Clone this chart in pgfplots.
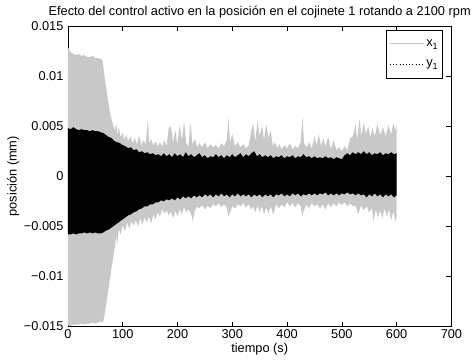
\documentclass[border=0pt]{standalone}
\usepackage{fontspec}
\setmainfont{Liberation Sans}
\usepackage{pgfplots}
\pgfplotsset{compat=1.18}
\definecolor{xgray}{RGB}{200,200,200}
\begin{document}
\fontsize{12.8bp}{15bp}\selectfont
\begin{tikzpicture}
\begin{axis}[
  scale only axis, width=384bp, height=301bp,
  xmin=0, xmax=700, ymin=-0.015, ymax=0.015,
  xtick={0,100,...,700},
  ytick={-0.015,-0.01,-0.005,0,0.005,0.01,0.015},
  yticklabels={−0.015,−0.01,−0.005,0,0.005,0.01,0.015},
  xticklabels={0,100,200,300,400,500,600,700},
  scaled y ticks=false,
  tick align=inside, major tick length=5bp,
  tick style={black, line width=0.5pt},
  axis line style={line width=0.6pt},
  tick label style={font=\fontsize{12.8bp}{15bp}\selectfont},
  label style={font=\fontsize{12.8bp}{15bp}\selectfont},
  title style={font=\fontsize{12.8bp}{15bp}\selectfont, yshift=-3bp},
  xticklabel style={yshift=1bp},
  title={Efecto del control activo en la posición en el cojinete 1 rotando a 2100 rpm},
  xlabel={tiempo (s)}, ylabel={posición (mm)},
  xlabel style={yshift=5bp},
  ylabel style={yshift=-4bp},
  legend cell align=left,
  legend style={at={(0.978,0.988)}, anchor=north east, draw=black, line width=0.6pt,
    font=\fontsize{12.8bp}{15bp}\selectfont, inner xsep=3bp, inner ysep=4bp,
    /tikz/every even column/.append style={column sep=2bp},
    nodes={inner sep=2bp, minimum height=20bp}},
  legend image code/.code={\draw[#1] (0bp,0bp) -- (34bp,0bp);},
]
\addlegendimage{xgray, solid, line width=0.8pt}
\addlegendentry{x\raisebox{-0.45ex}{\fontsize{9bp}{10bp}\selectfont 1}}
\addlegendimage{black, line width=0.6pt, dash pattern=on 0.6bp off 2.6bp}
\addlegendentry{y\raisebox{-0.45ex}{\fontsize{9bp}{10bp}\selectfont 1}}

% x_1 envelope (upper, then lower reversed)
\addplot[draw=none, fill=xgray, forget plot] coordinates {
(0,0.0127)(1,0.0128)(5,0.0124)(10,0.0122)(15,0.0121)(20,0.0122)(25,0.0120)(30,0.0121)(35,0.0119)(40,0.0119)(45,0.0120)(50,0.0118)(55,0.0118)(60,0.0117)(63,0.0116)(65,0.0108)(68,0.0095)(72,0.0080)(76,0.0066)(80,0.0056)(83,0.0050)(86,0.0046)(88,0.0054)(90,0.0041)(93,0.0049)(96,0.0039)(100,0.0044)(103,0.0036)(106,0.0042)(110,0.0035)(114,0.0040)(118,0.0033)(122,0.0038)(126,0.0032)(130,0.0041)(134,0.0031)(138,0.0036)(142,0.0032)(146,0.0057)(148,0.0033)(152,0.0037)(156,0.0031)(160,0.0035)(164,0.0030)(168,0.0034)(172,0.0030)(176,0.0036)(180,0.0030)(184,0.0048)(188,0.0050)(192,0.0034)(196,0.0046)(200,0.0031)(204,0.0052)(208,0.0036)(212,0.0055)(216,0.0033)(220,0.0030)(224,0.0054)(227,0.0032)(232,0.0037)(236,0.0029)(240,0.0033)(245,0.0029)(250,0.0034)(255,0.0028)(260,0.0032)(265,0.0029)(270,0.0031)(275,0.0028)(280,0.0033)(285,0.0030)(290,0.0036)(293,0.0059)(296,0.0034)(300,0.0042)(305,0.0030)(310,0.0034)(315,0.0029)(320,0.0032)(325,0.0028)(330,0.0031)(335,0.0046)(338,0.0053)(342,0.0035)(346,0.0055)(350,0.0040)(354,0.0051)(358,0.0036)(362,0.0052)(366,0.0038)(370,0.0046)(374,0.0030)(378,0.0034)(382,0.0028)(386,0.0032)(390,0.0027)(395,0.0031)(400,0.0028)(405,0.0033)(410,0.0027)(415,0.0030)(420,0.0028)(425,0.0034)(428,0.0060)(431,0.0033)(436,0.0029)(440,0.0034)(445,0.0028)(450,0.0040)(454,0.0031)(458,0.0042)(462,0.0030)(466,0.0038)(470,0.0029)(475,0.0040)(480,0.0027)(485,0.0036)(490,0.0026)(495,0.0029)(500,0.0025)(505,0.0030)(510,0.0026)(515,0.0038)(520,0.0040)(525,0.0052)(528,0.0036)(532,0.0057)(536,0.0040)(540,0.0054)(544,0.0042)(548,0.0050)(552,0.0039)(556,0.0048)(560,0.0040)(565,0.0052)(570,0.0041)(575,0.0049)(580,0.0040)(585,0.0051)(590,0.0042)(594,0.0053)(598,0.0045)(600,0.0053)
(600,-0.0040)(598,-0.0045)(594,-0.0035)(590,-0.0044)(586,-0.0033)(582,-0.0040)(578,-0.0032)(574,-0.0042)(570,-0.0034)(566,-0.0041)(562,-0.0033)(558,-0.0045)(555,-0.0032)(550,-0.0036)(545,-0.0030)(540,-0.0034)(535,-0.0029)(530,-0.0038)(525,-0.0029)(520,-0.0030)(515,-0.0027)(510,-0.0030)(505,-0.0026)(500,-0.0029)(495,-0.0026)(490,-0.0030)(485,-0.0027)(480,-0.0031)(475,-0.0027)(470,-0.0033)(465,-0.0028)(460,-0.0032)(455,-0.0028)(450,-0.0030)(445,-0.0027)(440,-0.0032)(435,-0.0028)(430,-0.0035)(428,-0.0041)(425,-0.0030)(420,-0.0027)(415,-0.0031)(410,-0.0027)(405,-0.0030)(400,-0.0026)(395,-0.0031)(390,-0.0028)(385,-0.0032)(380,-0.0028)(375,-0.0038)(370,-0.0030)(366,-0.0037)(362,-0.0031)(358,-0.0038)(354,-0.0030)(350,-0.0036)(346,-0.0029)(342,-0.0036)(338,-0.0030)(334,-0.0033)(330,-0.0028)(325,-0.0031)(320,-0.0027)(315,-0.0030)(310,-0.0028)(305,-0.0032)(300,-0.0030)(296,-0.0036)(293,-0.0040)(290,-0.0031)(285,-0.0028)(280,-0.0031)(275,-0.0027)(270,-0.0030)(265,-0.0028)(260,-0.0032)(255,-0.0029)(250,-0.0033)(245,-0.0029)(240,-0.0032)(236,-0.0030)(232,-0.0034)(228,-0.0045)(225,-0.0038)(220,-0.0033)(216,-0.0036)(212,-0.0031)(208,-0.0038)(204,-0.0033)(200,-0.0040)(196,-0.0034)(192,-0.0042)(188,-0.0035)(184,-0.0039)(180,-0.0034)(176,-0.0037)(172,-0.0033)(168,-0.0040)(164,-0.0036)(160,-0.0043)(156,-0.0038)(152,-0.0047)(148,-0.0040)(144,-0.0046)(140,-0.0041)(136,-0.0048)(132,-0.0042)(128,-0.0050)(124,-0.0044)(120,-0.0049)(116,-0.0045)(112,-0.0052)(108,-0.0046)(104,-0.0055)(100,-0.0049)(96,-0.0058)(93,-0.0052)(90,-0.0068)(88,-0.0060)(86,-0.0070)(83,-0.0080)(80,-0.0090)(76,-0.0105)(72,-0.0120)(68,-0.0134)(65,-0.0144)(63,-0.0146)(60,-0.0145)(55,-0.0146)(50,-0.0147)(45,-0.0146)(40,-0.0147)(35,-0.0147)(30,-0.0148)(25,-0.0147)(20,-0.0148)(15,-0.0148)(10,-0.0148)(5,-0.0149)(1,-0.0149)(0,-0.0148)
} -- cycle;

% y_1 envelope (upper, then lower reversed)
\addplot[draw=none, fill=black, forget plot] coordinates {
(0,0.0048)(5,0.0047)(10,0.0049)(15,0.0047)(20,0.0046)(25,0.0047)(30,0.0046)(35,0.0046)(40,0.0045)(45,0.0046)(50,0.0045)(55,0.0045)(60,0.0044)(65,0.0043)(70,0.0041)(75,0.0039)(80,0.0038)(85,0.0035)(90,0.0034)(95,0.0033)(100,0.0031)(105,0.0030)(110,0.0028)(115,0.0029)(120,0.0026)(125,0.0027)(130,0.0024)(135,0.0025)(140,0.0023)(145,0.0024)(150,0.0022)(155,0.0023)(160,0.0021)(165,0.0022)(170,0.0020)(175,0.0023)(180,0.0020)(185,0.0022)(190,0.0019)(195,0.0023)(200,0.0020)(205,0.0022)(210,0.0019)(215,0.0024)(220,0.0020)(225,0.0022)(230,0.0019)(235,0.0021)(240,0.0023)(245,0.0019)(250,0.0021)(255,0.0018)(260,0.0020)(265,0.0019)(270,0.0022)(275,0.0019)(280,0.0021)(285,0.0018)(290,0.0021)(295,0.0019)(300,0.0022)(305,0.0019)(310,0.0021)(315,0.0023)(320,0.0019)(325,0.0022)(330,0.0020)(335,0.0023)(340,0.0025)(345,0.0020)(350,0.0022)(355,0.0019)(360,0.0021)(365,0.0019)(370,0.0021)(375,0.0018)(380,0.0020)(385,0.0019)(390,0.0021)(395,0.0018)(400,0.0020)(405,0.0019)(410,0.0021)(415,0.0018)(420,0.0020)(425,0.0019)(430,0.0022)(435,0.0019)(440,0.0020)(445,0.0018)(450,0.0020)(455,0.0018)(460,0.0019)(465,0.0018)(470,0.0020)(475,0.0018)(480,0.0019)(485,0.0017)(490,0.0019)(495,0.0018)(500,0.0017)(505,0.0021)(510,0.0023)(515,0.0021)(520,0.0024)(525,0.0022)(530,0.0024)(535,0.0022)(540,0.0025)(545,0.0022)(550,0.0024)(555,0.0021)(560,0.0023)(565,0.0022)(570,0.0024)(575,0.0021)(580,0.0023)(585,0.0022)(590,0.0024)(595,0.0022)(600,0.0023)
(600,-0.0019)(595,-0.0021)(590,-0.0018)(585,-0.0020)(580,-0.0018)(575,-0.0021)(570,-0.0018)(565,-0.0020)(560,-0.0017)(555,-0.0020)(550,-0.0018)(545,-0.0021)(540,-0.0018)(535,-0.0019)(530,-0.0017)(525,-0.0019)(520,-0.0017)(515,-0.0018)(510,-0.0016)(505,-0.0018)(500,-0.0017)(495,-0.0019)(490,-0.0017)(485,-0.0019)(480,-0.0017)(475,-0.0019)(470,-0.0016)(465,-0.0018)(460,-0.0017)(455,-0.0019)(450,-0.0017)(445,-0.0019)(440,-0.0017)(435,-0.0019)(430,-0.0018)(425,-0.0020)(420,-0.0017)(415,-0.0019)(410,-0.0017)(405,-0.0020)(400,-0.0018)(395,-0.0020)(390,-0.0017)(385,-0.0019)(380,-0.0018)(375,-0.0021)(370,-0.0018)(365,-0.0020)(360,-0.0018)(355,-0.0021)(350,-0.0018)(345,-0.0020)(340,-0.0018)(335,-0.0021)(330,-0.0018)(325,-0.0020)(320,-0.0018)(315,-0.0020)(310,-0.0017)(305,-0.0020)(300,-0.0018)(295,-0.0021)(290,-0.0018)(285,-0.0020)(280,-0.0017)(275,-0.0020)(270,-0.0018)(265,-0.0021)(260,-0.0018)(255,-0.0020)(250,-0.0018)(245,-0.0021)(240,-0.0019)(235,-0.0021)(230,-0.0019)(225,-0.0022)(220,-0.0020)(215,-0.0022)(210,-0.0020)(205,-0.0023)(200,-0.0021)(195,-0.0024)(190,-0.0022)(185,-0.0024)(180,-0.0023)(175,-0.0025)(170,-0.0024)(165,-0.0026)(160,-0.0026)(155,-0.0028)(150,-0.0028)(145,-0.0030)(140,-0.0030)(135,-0.0032)(130,-0.0033)(125,-0.0035)(120,-0.0036)(115,-0.0038)(110,-0.0039)(105,-0.0041)(100,-0.0043)(95,-0.0045)(90,-0.0047)(85,-0.0049)(80,-0.0051)(75,-0.0053)(70,-0.0054)(65,-0.0056)(60,-0.0057)(55,-0.0057)(50,-0.0056)(45,-0.0057)(40,-0.0056)(35,-0.0057)(30,-0.0056)(25,-0.0057)(20,-0.0057)(15,-0.0058)(10,-0.0057)(5,-0.0058)(0,-0.0058)
} -- cycle;
\end{axis}
\path (-68bp,-33bp) rectangle (407bp,327bp);
\end{tikzpicture}
\end{document}
